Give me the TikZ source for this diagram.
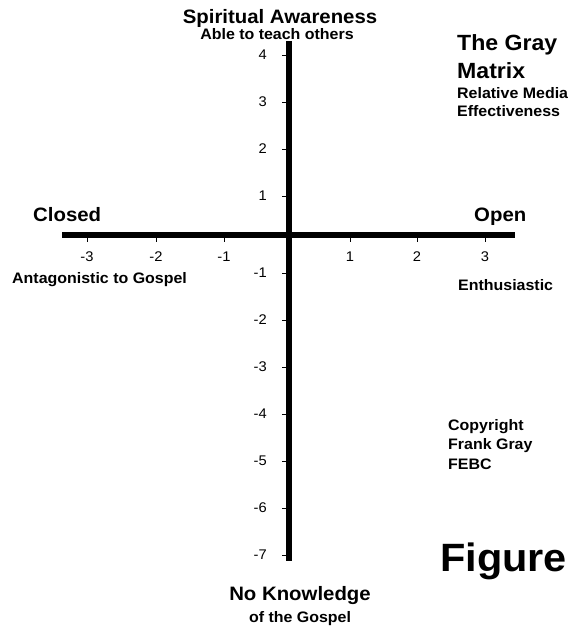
\documentclass[tikz,border=0pt]{standalone}
\usepackage{fontspec}
\setmainfont{Liberation Sans}[FakeStretch=1.05]
\usetikzlibrary{positioning}

\tikzset{
  axisline/.style={line width=6pt, line cap=butt},
  tickline/.style={line width=0.9pt},
  ticklabel/.style={font=\fontsize{14}{14}\selectfont, inner sep=0pt},
  heading/.style={font=\bfseries\fontsize{19.4}{19.4}\selectfont, inner sep=0pt},
  subhead/.style={font=\bfseries\fontsize{15.2}{15.2}\selectfont, inner sep=0pt},
  titletext/.style={font=\bfseries\fontsize{22}{22}\selectfont, inner sep=0pt},
}

\begin{document}
\begin{tikzpicture}[x=1pt, y=-1pt]
\useasboundingbox (0,0) rectangle (571,628);
% axes
\coordinate (west) at (62,235);
\coordinate (east) at (515,235);
\coordinate (north) at (289,41);
\coordinate (south) at (289,561);
\draw[axisline] (west) -- (east);
\draw[axisline] (north) -- (south);
% vertical scale
\foreach \v/\y in {4/55,3/102,2/149,1/196,-1/273,-2/320,-3/367,-4/414,-5/461,-6/508,-7/555}{
  \draw[tickline] (282,\y) -- (289,\y);
  \node[ticklabel, anchor=east] (yl\v) at (267,\y) {\v};
}
% horizontal scale
\foreach \v/\x in {-3/87,-2/156,-1/224,1/350,2/417,3/485}{
  \draw[tickline] (\x,235) -- (\x,242);
  \node[ticklabel] (xl\v) at (\x,257) {\v};
}
% axis ends
\node[heading, anchor=base] (aware) at (280,24) {Spiritual Awareness};
\node[subhead, anchor=base] (teach) at (277,40) {Able to teach others};
\node[heading, anchor=base west] (closed) at (33,222) {Closed};
\node[heading, anchor=base west] (open) at (474,222) {Open};
\node[subhead, anchor=base west] (antag) at (12,283) {Antagonistic to Gospel};
\node[subhead, anchor=base west] (enthu) at (458,290) {Enthusiastic};
\node[heading, anchor=base] (noknow) at (300,600) {No Knowledge};
\node[subhead, anchor=base] (gospel) at (300,622) {of the Gospel};
% title block
\node[titletext, anchor=base west] (title1) at (457,51) {The Gray};
\node[titletext, anchor=base west] (title2) at (457,79) {Matrix};
\node[subhead, anchor=base west] (media1) at (457,99) {Relative Media};
\node[subhead, anchor=base west] (media2) at (457,117) {Effectiveness};
\node[subhead, anchor=base west] (copy1) at (448,430) {Copyright};
\node[subhead, anchor=base west] (copy2) at (448,449) {Frank Gray};
\node[subhead, anchor=base west] (copy3) at (448,469) {FEBC};
\node[font=\bfseries\fontsize{39.5}{39.5}\selectfont, inner sep=0pt, anchor=base west] (fig) at (440,571) {Figure};
\end{tikzpicture}
\end{document}
